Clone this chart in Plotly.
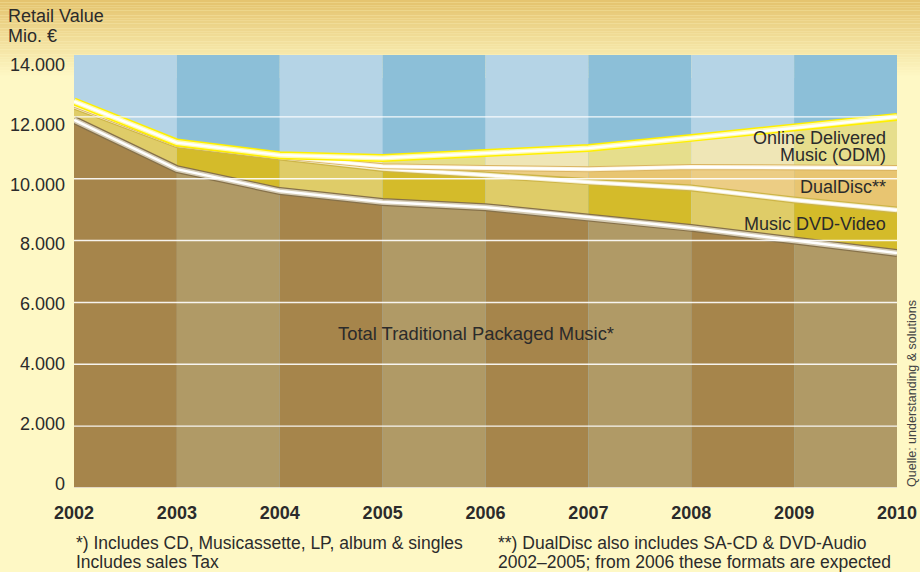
import plotly.graph_objects as go

# ---------------- data ----------------
years = [2002, 2003, 2004, 2005, 2006, 2007, 2008, 2009, 2010]
traditional = [11900, 10310, 9600, 9250, 9080, 8760, 8410, 8000, 7600]
dvd_video = [450, 790, 1100, 1080, 1040, 1130, 1290, 1310, 1390]
dualdisc = [50, 30, 30, 70, 230, 420, 680, 1040, 1360]
odm = [100, 40, 30, 270, 480, 680, 940, 1290, 1650]
y_tick_vals = [0, 2000, 4000, 6000, 8000, 10000, 12000, 14000]
y_tick_text = ["0", "2.000", "4.000", "6.000", "8.000", "10.000", "12.000", "14.000"]
x_tick_text = [str(y) for y in years]
Y_MAX = 14000

# ---------------- layout geometry ----------------
W, H = 920, 572
L, R, T, B = 74, 23, 55, 84
PH = H - T - B
PW = W - L - R

def py(p):  # pixel row -> paper y
    return (H - B - p) / PH

def px(p):  # pixel col -> paper x
    return (p - L) / PW

FONT = "Liberation Sans, Arial, sans-serif"
TXT = "#2b2b2b"

# cumulative boundaries
def cum(*arrs):
    return [sum(v) for v in zip(*arrs)]

b0 = [0] * len(years)
b1 = traditional
b2 = cum(traditional, dvd_video)
b3 = cum(traditional, dvd_video, dualdisc)
b4 = cum(traditional, dvd_video, dualdisc, odm)

layers = [
    (b0, b1, ("#a6854b", "#b09a66")),   # brown: dark first
    (b1, b2, ("#dfcc68", "#d4bb2a")),   # DVD
    (b2, b3, ("#eccd84", "#e8c571")),   # DualDisc
    (b3, b4, ("#efe6b6", "#e6de8c")),   # ODM
]

fig = go.Figure()

# column-wise filled areas
for lo, hi, cols in layers:
    for i in range(len(years) - 1):
        xs = [years[i], years[i + 1], years[i + 1], years[i], years[i]]
        ys = [lo[i], lo[i + 1], hi[i + 1], hi[i], lo[i]]
        fig.add_trace(go.Scatter(
            x=xs, y=ys, mode="lines", fill="toself",
            fillcolor=cols[i % 2], line=dict(width=0, color=cols[i % 2]),
            hoverinfo="skip", showlegend=False))

# glossy boundary lines
def glossy(yv, styles):
    for col, w in styles:
        fig.add_trace(go.Scatter(x=years, y=yv, mode="lines",
                                 line=dict(color=col, width=w),
                                 hoverinfo="skip", showlegend=False))

glossy(b1, [("#86714a", 8), ("#d6cdb6", 5.5), ("#ffffff", 2.5)])
glossy(b2, [("#cdb548", 7), ("#f4eed0", 4.5), ("#ffffff", 2.4)])
glossy(b3, [("#dbb562", 6), ("#fbf3dc", 4), ("#ffffff", 2.2)])
glossy(b4, [("#fff000", 8), ("#fffbb0", 5), ("#ffffff", 2.3)])

# hidden axis that carries the y tick labels (labels sit slightly off the grid in the original)
fig.add_trace(go.Scatter(x=[years[0]], y=[0], yaxis="y2", mode="markers",
                         marker=dict(opacity=0), hoverinfo="skip", showlegend=False))

shapes = []
# top golden gradient band
n = 30
c0 = (0xe5, 0xc4, 0x6f)
c1 = (0xfe, 0xf8, 0xc5)
top_h = 78
for k in range(n):
    t = k / (n - 1)
    col = "rgb(%d,%d,%d)" % tuple(int(c0[j] + (c1[j] - c0[j]) * t) for j in range(3))
    shapes.append(dict(type="rect", xref="paper", yref="paper",
                       x0=px(0), x1=px(W), y0=py(top_h * (k + 1) / n), y1=py(top_h * k / n),
                       fillcolor=col, line=dict(width=0), layer="below"))
# blue column bands
for i in range(len(years) - 1):
    shapes.append(dict(type="rect", xref="x", yref="y",
                       x0=years[i], x1=years[i + 1], y0=0, y1=Y_MAX,
                       fillcolor=("#b5d4e6" if i % 2 == 0 else "#8cbfd8"),
                       line=dict(width=0), layer="below"))
# white gridlines drawn above the areas
for v in y_tick_vals[:-1]:
    shapes.append(dict(type="line", xref="paper", yref="y", x0=0, x1=1, y0=v, y1=v,
                       line=dict(color="rgba(255,255,255,0.9)", width=1.4), layer="above"))

annotations = [
    dict(text="Retail Value", x=px(6), y=py(16), xref="paper", yref="paper",
         xanchor="left", yanchor="middle", showarrow=False, font=dict(size=18, color=TXT, family=FONT)),
    dict(text="Mio. €", x=px(6), y=py(36), xref="paper", yref="paper",
         xanchor="left", yanchor="middle", showarrow=False, font=dict(size=18, color=TXT, family=FONT)),
    dict(text="Total Traditional Packaged Music*", x=px(476), y=py(333), xref="paper", yref="paper",
         xanchor="center", yanchor="middle", showarrow=False, font=dict(size=18.4, color=TXT, family=FONT)),
    dict(text="Online Delivered", x=px(888), y=py(138), xref="paper", yref="paper",
         xanchor="right", yanchor="middle", showarrow=False, font=dict(size=18, color=TXT, family=FONT)),
    dict(text="Music (ODM)", x=px(888), y=py(155), xref="paper", yref="paper",
         xanchor="right", yanchor="middle", showarrow=False, font=dict(size=18, color=TXT, family=FONT)),
    dict(text="DualDisc**", x=px(888), y=py(187), xref="paper", yref="paper",
         xanchor="right", yanchor="middle", showarrow=False, font=dict(size=18, color=TXT, family=FONT)),
    dict(text="Music DVD-Video", x=px(888), y=py(224), xref="paper", yref="paper",
         xanchor="right", yanchor="middle", showarrow=False, font=dict(size=18, color=TXT, family=FONT)),
    dict(text="*) Includes CD, Musicassette, LP, album &amp; singles", x=px(74), y=py(543),
         xref="paper", yref="paper", xanchor="left", yanchor="middle", showarrow=False,
         font=dict(size=17.5, color=TXT, family=FONT)),
    dict(text="Includes sales Tax", x=px(74), y=py(562),
         xref="paper", yref="paper", xanchor="left", yanchor="middle", showarrow=False,
         font=dict(size=17.5, color=TXT, family=FONT)),
    dict(text="**) DualDisc also includes SA-CD &amp; DVD-Audio", x=px(496), y=py(543),
         xref="paper", yref="paper", xanchor="left", yanchor="middle", showarrow=False,
         font=dict(size=17.5, color=TXT, family=FONT)),
    dict(text="2002–2005; from 2006 these formats are expected", x=px(496), y=py(562),
         xref="paper", yref="paper", xanchor="left", yanchor="middle", showarrow=False,
         font=dict(size=17.5, color=TXT, family=FONT)),
    dict(text="Quelle: understanding &amp; solutions", x=px(912), y=py(394),
         xref="paper", yref="paper", xanchor="center", yanchor="middle", showarrow=False,
         textangle=-90, font=dict(size=12.5, color="#444444", family=FONT)),
]

# y2 range so labels land where the original puts them
lab0, lab_scale = 483.5, 419 / 14000.0
y2_range = [-(H - B - lab0) / lab_scale, (lab0 - T) / lab_scale]

fig.update_layout(
    width=W, height=H,
    margin=dict(l=L, r=R, t=T, b=B, pad=0, autoexpand=False),
    paper_bgcolor="#fef8c5", plot_bgcolor="#b5d4e6",
    showlegend=False,
    xaxis=dict(range=[years[0], years[-1]], tickvals=years, ticktext=x_tick_text,
               showgrid=False, zeroline=False, showline=False, ticks="",
               ticklabelstandoff=12, automargin=False,
               tickfont=dict(size=18, color=TXT, family=FONT, weight="bold")),
    yaxis=dict(range=[0, Y_MAX], showgrid=False, zeroline=False, showline=False,
               showticklabels=False, ticks="", automargin=False),
    yaxis2=dict(range=y2_range, overlaying="y", side="left", tickvals=y_tick_vals,
                ticktext=y_tick_text, showgrid=False, zeroline=False, showline=False,
                ticks="", ticklabelstandoff=8, automargin=False,
                tickfont=dict(size=18, color=TXT, family=FONT)),
    shapes=shapes,
    annotations=annotations,
)

fig.write_html("out.html", config={"displayModeBar": False},
               post_script="document.body.style.margin='0';document.body.style.overflow='hidden';")
